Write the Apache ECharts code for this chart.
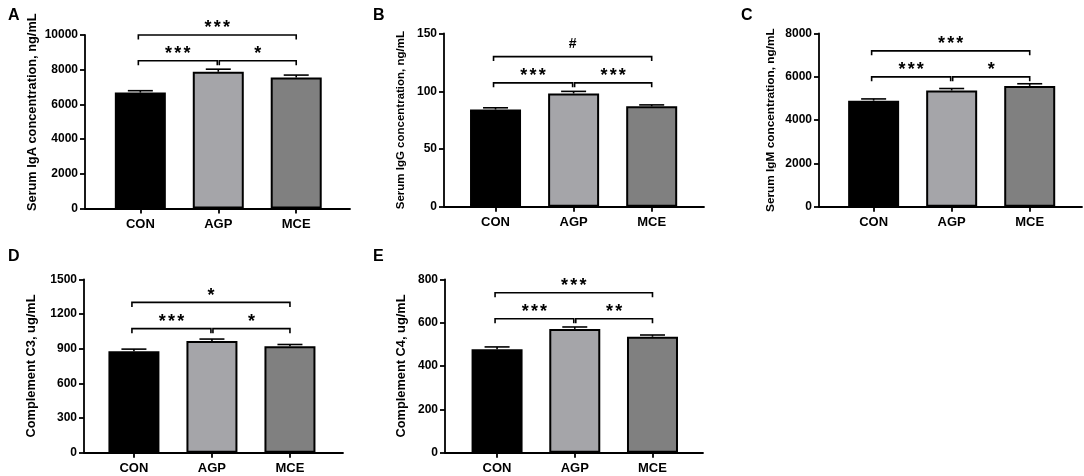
<!DOCTYPE html>
<html>
<head>
<meta charset="utf-8">
<script src="https://cdn.jsdelivr.net/npm/echarts@6/dist/echarts.min.js"></script>
<style>
  html, body { margin: 0; padding: 0; background: #fff; }
  #chart { width: 1084px; height: 476px; }
</style>
</head>
<body>
<div id="chart"></div>
<script>
const groups = ['CON', 'AGP', 'MCE'];
const fills = ['#000000', '#a5a5a9', '#808080'];

// mean and SEM per group
const igaMean = [6680, 7880, 7550];
const igaSem = [110, 150, 140];
const iggMean = [84.2, 98.1, 87.0];
const iggSem = [1.5, 1.8, 1.2];
const igmMean = [4900, 5370, 5580];
const igmSem = [80, 90, 100];
const c3Mean = [878, 967, 920];
const c3Sem = [18, 16, 16];
const c4Mean = [477, 571, 535];
const c4Sem = [11, 9, 8];

// significance brackets: from group, to group, level (axis units), mark
const igaSig = [[0, 1, 8520, '***'], [1, 2, 8520, '*'], [0, 2, 10000, '***']];
const iggSig = [[0, 1, 107.3, '***'], [1, 2, 107.3, '***'], [0, 2, 130, '#']];
const igmSig = [[0, 1, 6000, '***'], [1, 2, 6000, '*'], [0, 2, 7200, '***']];
const c3Sig = [[0, 1, 1073, '***'], [1, 2, 1073, '*'], [0, 2, 1300, '*']];
const c4Sig = [[0, 1, 618, '***'], [1, 2, 618, '**'], [0, 2, 738, '***']];

const FONT = 'Arial, "Liberation Sans", sans-serif';

const panels = [
  { letter: 'A', mean: igaMean, sem: igaSem, sig: igaSig, max: 10000, step: 2000,
    name: 'Serum IgA concentration, ng/mL', nameSize: 12.8, nameGap: 46, nameShift: 19,
    grid: { left: 85, top: 35, width: 265, height: 173.5 }, xMin: -0.71, xMax: 2.69, at: [8, 8] },
  { letter: 'B', mean: iggMean, sem: iggSem, sig: iggSig, max: 150, step: 50,
    name: 'Serum IgG concentration, ng/mL', nameSize: 11.5, nameGap: 37, nameShift: 0,
    grid: { left: 444, top: 33.5, width: 260, height: 173.3 }, xMin: -0.66, xMax: 2.67, at: [373, 8] },
  { letter: 'C', mean: igmMean, sem: igmSem, sig: igmSig, max: 8000, step: 2000,
    name: 'Serum IgM concentration, ng/mL', nameSize: 11.8, nameGap: 42, nameShift: 0,
    grid: { left: 819, top: 33.5, width: 263, height: 173.3 }, xMin: -0.70, xMax: 2.67, at: [741, 8] },
  { letter: 'D', mean: c3Mean, sem: c3Sem, sig: c3Sig, max: 1500, step: 300,
    name: 'Complement C3, ug/mL', nameSize: 12.8, nameGap: 46, nameShift: 0,
    grid: { left: 84, top: 279.3, width: 259, height: 173.4 }, xMin: -0.64, xMax: 2.68, at: [8, 249] },
  { letter: 'E', mean: c4Mean, sem: c4Sem, sig: c4Sig, max: 800, step: 200,
    name: 'Complement C4, ug/mL', nameSize: 12.8, nameGap: 37, nameShift: 0,
    grid: { left: 445, top: 279.3, width: 258, height: 173.4 }, xMin: -0.67, xMax: 2.65, at: [373, 249] }
];

const black = { color: '#000', width: 1.8 };

function errorBar(params, api) {
  const x = api.value(0);
  const m = api.value(1);
  const s = api.value(2);
  const base = api.coord([x, m]);
  const top = api.coord([x, m + s]);
  const st = { stroke: '#000', lineWidth: 1.6 };
  return {
    type: 'group',
    children: [
      { type: 'line', shape: { x1: base[0], y1: base[1], x2: top[0], y2: top[1] }, style: st },
      { type: 'line', shape: { x1: top[0] - 12.5, y1: top[1], x2: top[0] + 12.5, y2: top[1] }, style: st }
    ]
  };
}

function bracketMaker(sig) {
  return function (params, api) {
    const row = sig[params.dataIndex];
    const a = api.coord([row[0], row[2]]);
    const b = api.coord([row[1], row[2]]);
    const x1 = a[0] + (row[0] === 1 ? 1 : -2);
    const x2 = b[0] - (row[1] === 1 ? 1 : 0);
    const y = a[1];
    const st = { stroke: '#000', lineWidth: 1.6, fill: null };
    const kids = [
      { type: 'polyline', shape: { points: [[x1, y + 4.5], [x1, y], [x2, y], [x2, y + 4.5]] }, style: st }
    ];
    const mark = row[3];
    const cx = (x1 + x2) / 2;
    const n = mark.length;
    for (let k = 0; k < n; k++) {
      const ch = mark[k];
      const star = ch === '*';
      kids.push({
        type: 'text',
        x: cx + (k - (n - 1) / 2) * 9.2,
        y: star ? y - 6.5 : y - 12,
        style: {
          text: ch,
          fill: '#000',
          font: star ? 'bold 18px ' + FONT : 'bold 14px ' + FONT,
          textAlign: 'center',
          textVerticalAlign: 'middle'
        }
      });
    }
    return { type: 'group', children: kids };
  };
}

const myChart = echarts.init(document.getElementById('chart'));

const series = [];
panels.forEach((p, i) => {
  series.push({
    type: 'bar',
    xAxisIndex: i,
    yAxisIndex: i,
    barWidth: 51,
    itemStyle: { borderColor: '#000', borderWidth: 2 },
    data: p.mean.map((v, k) => ({ value: [k, v], itemStyle: { color: fills[k] } })),
    z: 2
  });
  series.push({
    type: 'custom',
    xAxisIndex: i,
    yAxisIndex: i,
    clip: false,
    renderItem: errorBar,
    data: p.mean.map((v, k) => [k, v, p.sem[k]]),
    z: 3
  });
  series.push({
    type: 'custom',
    xAxisIndex: i,
    yAxisIndex: i,
    clip: false,
    renderItem: bracketMaker(p.sig),
    data: p.sig.map((r) => [r[0], r[2]]),
    z: 4
  });
});

myChart.setOption({
  animation: false,
  backgroundColor: '#fff',
  title: panels.map((p) => ({
    text: p.letter,
    left: p.at[0],
    top: p.at[1],
    padding: 0,
    textStyle: { fontFamily: FONT, fontSize: 16, fontWeight: 'bold', color: '#000' }
  })),
  grid: panels.map((p) => p.grid),
  xAxis: panels.map((p, i) => ({
    type: 'value',
    gridIndex: i,
    min: p.xMin,
    max: p.xMax,
    axisLine: { show: true, onZero: false, lineStyle: black },
    axisTick: { show: true, customValues: [0, 1, 2], length: 5, lineStyle: black },
    axisLabel: {
      customValues: [0, 1, 2],
      formatter: (v) => groups[v],
      fontFamily: FONT,
      fontSize: 13,
      fontWeight: 'bold',
      color: '#000',
      margin: 9
    },
    splitLine: { show: false }
  })),
  yAxis: panels.map((p, i) => ({
    type: 'value',
    gridIndex: i,
    min: 0,
    max: p.max,
    interval: p.step,
    axisLine: { show: true, onZero: false, lineStyle: black },
    axisTick: { show: true, length: 5, lineStyle: black },
    axisLabel: {
      formatter: (v) => String(v),
      fontFamily: FONT,
      fontSize: 12,
      fontWeight: 'bold',
      color: '#000',
      margin: 7
    },
    splitLine: { show: false },
    name: p.name,
    nameLocation: 'middle',
    nameGap: p.nameGap,
    nameTextStyle: {
      fontFamily: FONT,
      fontSize: p.nameSize,
      fontWeight: 'bold',
      color: '#000',
      padding: [0, 0, 0, p.nameShift]
    }
  })),
  series: series
});
</script>
</body>
</html>
